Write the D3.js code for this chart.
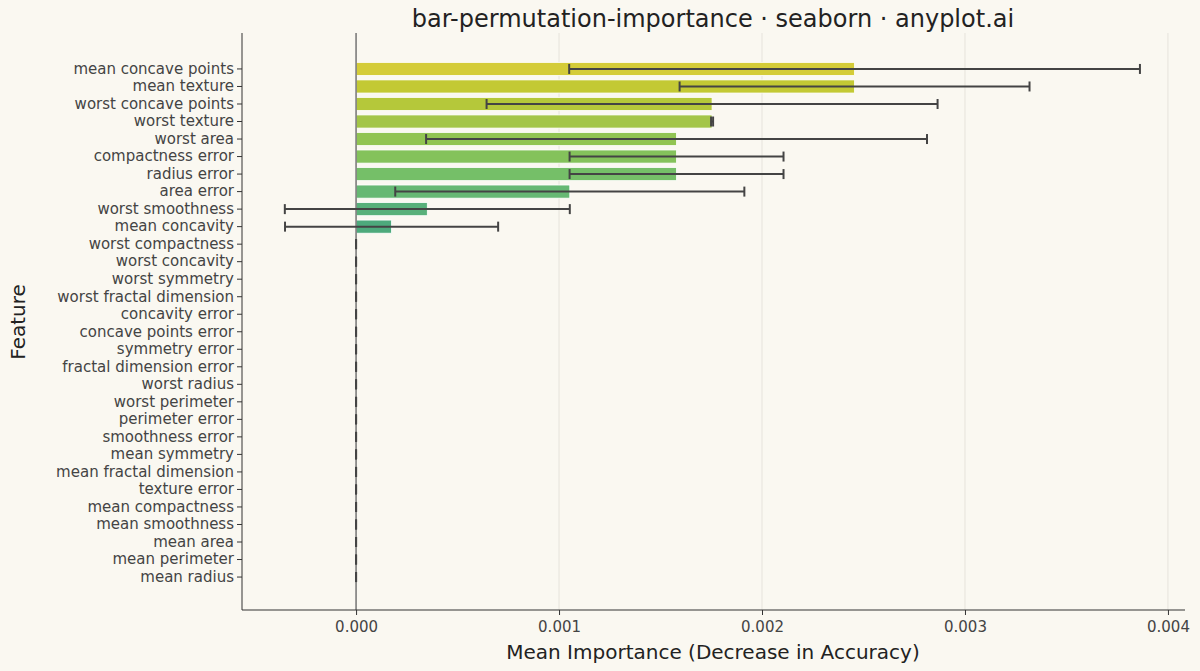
<!DOCTYPE html><html><head><meta charset="utf-8"><script src="https://cdn.jsdelivr.net/npm/d3@7"></script>
<style>body{margin:0;background:#faf8f1}svg{font-family:"DejaVu Sans",sans-serif}</style></head><body><svg width="1200" height="671"></svg><script>
const features=["mean concave points","mean texture","worst concave points","worst texture","worst area","compactness error","radius error","area error","worst smoothness","mean concavity","worst compactness","worst concavity","worst symmetry","worst fractal dimension","concavity error","concave points error","symmetry error","fractal dimension error","worst radius","worst perimeter","perimeter error","smoothness error","mean symmetry","mean fractal dimension","texture error","mean compactness","mean smoothness","mean area","mean perimeter","mean radius"];
const means=[0.002456,0.002456,0.001754,0.001754,0.001579,0.001579,0.001579,0.001053,0.000351,0.000175,0,0,0,0,0,0,0,0,0,0,0,0,0,0,0,0,0,0,0,0];
const stds=[0.001406,0.000862,0.001111,0.000005,0.001234,0.000527,0.000527,0.000860,0.000702,0.000525,0,0,0,0,0,0,0,0,0,0,0,0,0,0,0,0,0,0,0,0];
const xTicks=[0,0.001,0.002,0.003,0.004];
const colors=["#d4cc38","#c3c934","#b5c83a","#a3c547","#91c452","#84c25b","#75bf68","#66b873","#58b07a","#4daa7c"];
const svg=d3.select("svg");
const L=242,R=1185,T=33,B=610;
const x=d3.scaleLinear().domain([-0.000562,0.004084]).range([L,R]);
const y=d3.scaleBand().domain(features).range([T+25,B-22]).padding(0.25);
svg.append("g").selectAll("line").data(xTicks).join("line").attr("x1",d=>x(d)).attr("x2",d=>x(d)).attr("y1",T).attr("y2",B).attr("stroke","#e6e3dc").attr("stroke-width",1);
svg.append("g").selectAll("rect").data(features).join("rect").attr("x",(d,i)=>x(Math.min(0,means[i]))).attr("y",d=>y(d)).attr("width",(d,i)=>Math.abs(x(means[i])-x(0))).attr("height",y.bandwidth()).attr("fill",(d,i)=>colors[i]||"#4daa7c").attr("stroke","#fff").attr("stroke-width",0.8);
svg.append("line").attr("x1",x(0)).attr("x2",x(0)).attr("y1",T).attr("y2",B).attr("stroke","#777").attr("stroke-width",1.5);
const eb=svg.append("g").attr("stroke","#444").attr("stroke-width",2);
features.forEach((f,i)=>{const cy=y(f)+y.bandwidth()/2,a=x(means[i]-stds[i]),b=x(means[i]+stds[i]);
 eb.append("line").attr("x1",a).attr("x2",b).attr("y1",cy).attr("y2",cy);
 [a,b].forEach(v=>eb.append("line").attr("x1",v).attr("x2",v).attr("y1",cy-5).attr("y2",cy+5));});
const xa=svg.append("g").attr("transform",`translate(0,${B})`).call(d3.axisBottom(x).tickValues(xTicks).tickFormat(d3.format(".3f")).tickSize(5).tickPadding(6));
const ya=svg.append("g").attr("transform",`translate(${L},0)`).call(d3.axisLeft(y).tickSize(5).tickPadding(3));
[xa,ya].forEach(a=>{a.select(".domain").attr("stroke","#333");a.selectAll(".tick line").attr("stroke","#333");a.selectAll("text").attr("font-size",15).attr("fill","#444").attr("font-family","DejaVu Sans");});
xa.select(".domain").attr("d",`M${L},0H${R}`);ya.select(".domain").attr("d",`M0,${T}V${B}`);
svg.append("text").attr("x",713).attr("y",27).attr("text-anchor","middle").attr("font-size",24).attr("fill","#222").text("bar-permutation-importance · seaborn · anyplot.ai");
svg.append("text").attr("x",713).attr("y",659).attr("text-anchor","middle").attr("font-size",20).attr("fill","#222").text("Mean Importance (Decrease in Accuracy)");
svg.append("text").attr("transform","translate(25,322) rotate(-90)").attr("text-anchor","middle").attr("font-size",20).attr("fill","#222").text("Feature");
</script></body></html>
